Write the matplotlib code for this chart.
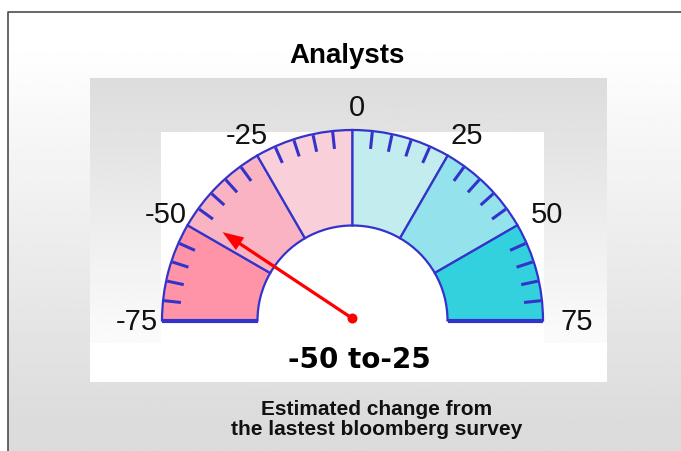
import numpy as np
import matplotlib
matplotlib.use('Agg')
from matplotlib import pyplot as plt
from matplotlib.patches import Wedge, Rectangle, Circle, FancyArrow

# gauge data
bounds = [-75, -50, -25, 0, 25, 50, 75]
sector_colors = ['#ff94a8', '#f9b3c3', '#f9cfd9', '#c3ecee', '#94e2ec', '#33d0dd']
tick_labels = ['-75', '-50', '-25', '0', '25', '50', '75']
minor_step = 5
needle_value = -47
reading = '-50 to-25'
title = 'Analysts'
caption = ['Estimated change from', 'the lastest bloomberg survey']

W, H = 681, 451
edge = '#3333cc'

def Y(y):  # pixel row -> axes y (y up)
    return H - y

fig = plt.figure(figsize=(W / 100, H / 100), dpi=100)
ax = fig.add_axes([0, 0, 1, 1])

# outer background, white -> gray going down
g = np.linspace(0, 1, 200)
col = 1 - np.clip((g * (H - 11) - 30) / 380, 0, 1) * (35 / 255)
ax.imshow(col[:, None], extent=[8, W, Y(H), Y(11)], cmap='gray', vmin=0, vmax=1,
          aspect='auto', zorder=0, interpolation='bilinear')
ax.plot([8, 8, W], [Y(H), Y(11.5), Y(11.5)], color='#4d4d4d', lw=1.2, zorder=1)

# gray panel with its gradient
pg = np.linspace(220, 251, 200) / 255
ax.imshow(pg[:, None], extent=[90, 607, Y(343), Y(78)], cmap='gray', vmin=0, vmax=1,
          aspect='auto', zorder=1, interpolation='bilinear')
ax.add_patch(Rectangle((90, Y(382)), 517, 39, fc='white', ec='none', zorder=2))
ax.add_patch(Rectangle((161, Y(343)), 383, 211, fc='white', ec='none', zorder=2))

cx, cy = 352.5, Y(320.5)
R, r = 190.5, 95
vmin, vmax = bounds[0], bounds[-1]

def ang(v):
    return 180 - (v - vmin) / (vmax - vmin) * 180

for i, c in enumerate(sector_colors):
    ax.add_patch(Wedge((cx, cy), R, ang(bounds[i + 1]), ang(bounds[i]), width=R - r,
                       fc=c, ec=edge, lw=1.6, zorder=3))

# minor ticks on the outer rim
for v in range(vmin + minor_step, vmax, minor_step):
    if v % 25 == 0:
        continue
    t = np.radians(ang(v))
    ax.plot([cx + (R - 18) * np.cos(t), cx + (R - 1) * np.cos(t)],
            [cy + (R - 18) * np.sin(t), cy + (R - 1) * np.sin(t)],
            color=edge, lw=2.2, solid_capstyle='butt', zorder=4)

# thick base line
ax.plot([cx - R, cx - r], [cy, cy], color=edge, lw=3, solid_capstyle='butt', zorder=4)
ax.plot([cx + r, cx + R], [cy, cy], color=edge, lw=3, solid_capstyle='butt', zorder=4)

# scale labels
for v, lab in zip(bounds, tick_labels):
    t = np.radians(ang(v))
    ax.text(cx + 4 + 220 * np.cos(t), cy + 215 * np.sin(t) - 10, lab,
            ha='center', va='baseline', fontsize=21, family='Liberation Sans',
            color='#111111', zorder=6)

# needle
t = np.radians(ang(needle_value))
L = 156
ax.add_patch(FancyArrow(cx, cy + 2, L * np.cos(t), L * np.sin(t), width=3.2,
                        head_width=15, head_length=21, length_includes_head=True,
                        fc='#ff0000', ec='none', zorder=5))
ax.add_patch(Circle((cx, cy + 2), 5, fc='#ff0000', ec='none', zorder=6))

ax.text(347.5, Y(63), title, ha='center', va='baseline', fontsize=20,
        fontweight='bold', family='Liberation Sans', zorder=6)
ax.text(359, Y(368), reading, ha='center', va='baseline', fontsize=20,
        fontweight='bold', family='DejaVu Sans', zorder=6)
ax.text(377, Y(415), caption[0], ha='center', va='baseline', fontsize=15,
        fontweight='bold', family='Liberation Sans', color='#111111', zorder=6)
ax.text(377, Y(435), caption[1], ha='center', va='baseline', fontsize=15,
        fontweight='bold', family='Liberation Sans', color='#111111', zorder=6)

ax.set_xlim(0, W)
ax.set_ylim(0, H)
ax.axis('off')
fig.savefig('out.png', dpi=100)
